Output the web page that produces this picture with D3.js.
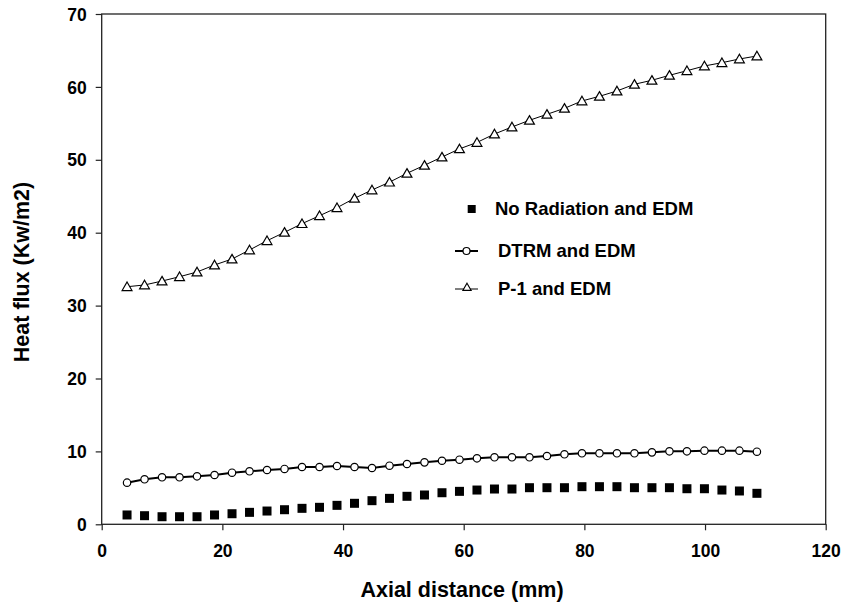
<!DOCTYPE html>
<html><head><meta charset="utf-8">
<script src="https://cdn.jsdelivr.net/npm/d3@7"></script>
<style>body{margin:0;background:#fff}text{font-family:"Liberation Sans",Arial,sans-serif;font-weight:bold;fill:#000}</style>
</head><body><svg id="c" width="844" height="603"></svg>
<script>
const axialDistance = [4.2,7.1,10.0,12.9,15.8,18.7,21.6,24.5,27.4,30.3,33.2,36.1,39.0,41.9,44.8,47.7,50.6,53.5,56.4,59.3,62.2,65.1,68.0,70.9,73.8,76.7,79.6,82.5,85.4,88.3,91.2,94.1,97.0,99.9,102.8,105.7,108.6];
const noRadiation = [1.28,1.18,1.04,1.04,1.04,1.28,1.45,1.64,1.82,2.0,2.19,2.33,2.6,2.88,3.24,3.56,3.84,4.02,4.33,4.52,4.7,4.84,4.84,5.02,5.02,5.02,5.16,5.16,5.16,5.02,5.02,5.02,4.88,4.88,4.7,4.57,4.25];
const dtrm = [5.71,6.17,6.45,6.45,6.58,6.76,7.08,7.27,7.45,7.59,7.86,7.86,8.0,7.86,7.72,8.04,8.27,8.5,8.72,8.86,9.05,9.19,9.19,9.19,9.37,9.6,9.74,9.74,9.74,9.74,9.87,10.01,10.01,10.1,10.1,10.1,9.96];
const p1 = [32.59,32.83,33.37,33.96,34.61,35.57,36.39,37.63,38.9,40.05,41.24,42.33,43.43,44.72,45.86,46.93,48.15,49.25,50.38,51.5,52.38,53.54,54.5,55.42,56.24,57.06,58.07,58.71,59.44,60.36,60.91,61.59,62.22,62.87,63.32,63.83,64.24];
const xTicks = [0,20,40,60,80,100,120];
const yTicks = [0,10,20,30,40,50,60,70];
const legendLabels = ["No Radiation and EDM","DTRM and EDM","P-1 and EDM"];

const svg = d3.select("#c");
const L=101.7, R=825.7, T=14, B=524.3;
const x = d3.scaleLinear().domain([0,120]).range([L,R]);
const y = d3.scaleLinear().domain([0,70]).range([B,T]);

svg.append("rect").attr("x",L).attr("y",T).attr("width",R-L).attr("height",B-T)
  .attr("fill","none").attr("stroke","#222").attr("stroke-width",1.3);

const xAxis = svg.append("g").attr("transform",`translate(0,${B})`)
  .call(d3.axisBottom(x).tickValues(xTicks).tickSize(6).tickPadding(14).tickFormat(d3.format("d")));
const yAxis = svg.append("g").attr("transform",`translate(${L},0)`)
  .call(d3.axisLeft(y).tickValues(yTicks).tickSize(6).tickPadding(9).tickFormat(d3.format("d")));
[xAxis,yAxis].forEach(a=>{
  a.select(".domain").remove();
  a.selectAll(".tick line").attr("stroke","#222").attr("stroke-width",1.2);
  a.selectAll("text").attr("font-size",17.5).attr("font-family","Liberation Sans, Arial, sans-serif").attr("font-weight","bold").attr("fill","#000");
});
yAxis.selectAll("text").attr("dy","0.35em");

svg.append("text").attr("x",462).attr("y",597).attr("text-anchor","middle").attr("font-size",21.5).text("Axial distance (mm)");
svg.append("text").attr("transform","translate(29,272) rotate(-90)").attr("text-anchor","middle").attr("font-size",21.5).text("Heat flux (Kw/m2)");

const line = d3.line().x((d,i)=>x(axialDistance[i])).y(d=>y(d));
const tri = d3.symbol().type(d3.symbolTriangle).size(42);

svg.append("path").datum(p1).attr("d",line).attr("fill","none").attr("stroke","#000").attr("stroke-width",1);
svg.append("g").selectAll("path").data(p1).join("path")
  .attr("d",tri).attr("transform",(d,i)=>`translate(${x(axialDistance[i])},${y(d)+1})`)
  .attr("fill","#fff").attr("stroke","#000").attr("stroke-width",1.2);

svg.append("path").datum(dtrm).attr("d",line).attr("fill","none").attr("stroke","#000").attr("stroke-width",2);
svg.append("g").selectAll("circle").data(dtrm).join("circle")
  .attr("cx",(d,i)=>x(axialDistance[i])).attr("cy",d=>y(d)).attr("r",3.7)
  .attr("fill","#fff").attr("stroke","#000").attr("stroke-width",1.2);

svg.append("g").selectAll("rect").data(noRadiation).join("rect")
  .attr("x",(d,i)=>x(axialDistance[i])-4.5).attr("y",d=>y(d)-4.5).attr("width",9).attr("height",9).attr("fill","#000");

const lg = svg.append("g");
lg.append("rect").attr("x",467.7).attr("y",205).attr("width",8).attr("height",8).attr("fill","#000");
lg.append("line").attr("x1",455).attr("x2",478).attr("y1",251).attr("y2",251).attr("stroke","#000").attr("stroke-width",2);
lg.append("circle").attr("cx",466.5).attr("cy",251).attr("r",3.5).attr("fill","#fff").attr("stroke","#000").attr("stroke-width",1.2);
lg.append("line").attr("x1",455).attr("x2",478).attr("y1",289).attr("y2",289).attr("stroke","#000").attr("stroke-width",1);
lg.append("path").attr("d",d3.symbol().type(d3.symbolTriangle).size(30)).attr("transform","translate(467,288)")
  .attr("fill","#fff").attr("stroke","#000").attr("stroke-width",1.1);
const lx=[495,498,498], ly=[209,251,289];
legendLabels.forEach((t,i)=>lg.append("text").attr("x",lx[i]).attr("y",ly[i]).attr("dy","0.35em").attr("font-size",18.5).text(t));
</script></body></html>
